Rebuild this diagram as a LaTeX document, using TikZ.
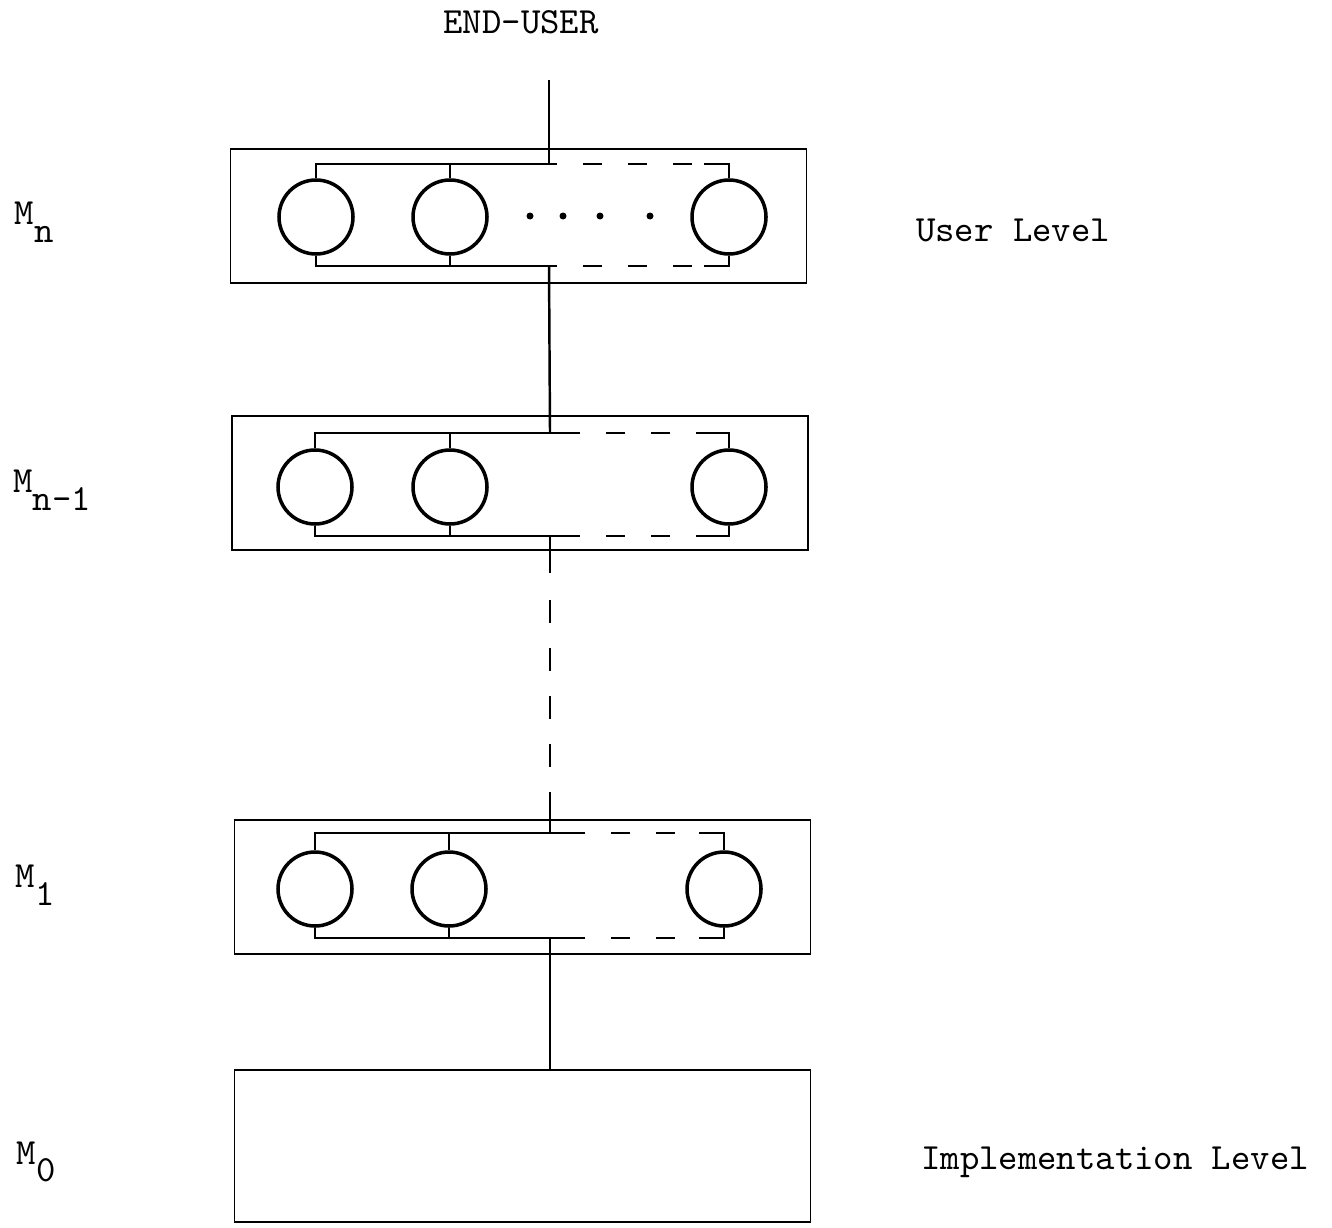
\documentclass[tikz,border=0pt]{standalone}
\usetikzlibrary{positioning, calc}

\begin{document}
\begin{tikzpicture}[
  layer/.style={draw, line width=0.5pt, minimum width=5.76cm, minimum height=1.34cm},
  unit/.style={draw, circle, line width=1pt, minimum size=0.74cm, inner sep=0pt},
  bus/.style={line width=0.7pt},
  gapbus/.style={bus, dash pattern=on 0.19cm off 0.26cm, dash phase=0.19cm},
  lbl/.style={font=\ttfamily\fontsize{10.5}{12}\selectfont},
]
  \useasboundingbox (0,0) rectangle (13.32,-12.27);

  % machine levels
  \node[layer] (mn) at (5.185,-2.16) {};
  \node[layer] (mnm) at (5.20,-4.83) {};
  \node[layer] (mone) at (5.225,-8.87) {};
  \node[layer, minimum height=1.52cm] (mzero) at (5.225,-11.46) {};

  \node[unit] (mn-a) at (3.16,-2.17) {};
  \node[unit] (mn-b) at (4.50,-2.17) {};
  \node[unit] (mn-c) at (7.29,-2.17) {};
  \node[unit] (mnm-a) at (3.15,-4.87) {};
  \node[unit] (mnm-b) at (4.50,-4.87) {};
  \node[unit] (mnm-c) at (7.29,-4.87) {};
  \node[unit] (mone-a) at (3.15,-8.89) {};
  \node[unit] (mone-b) at (4.49,-8.89) {};
  \node[unit] (mone-c) at (7.24,-8.89) {};

  \coordinate (mn-t) at (5.49,-1.64);
  \coordinate (mn-d) at (5.49,-2.66);
  \coordinate (mnm-t) at (5.50,-4.33);
  \coordinate (mnm-d) at (5.50,-5.36);
  \coordinate (mone-t) at (5.50,-8.33);
  \coordinate (mone-d) at (5.50,-9.38);

  % buses inside each level
  \foreach \l/\s in {mn/0.08, mnm/0.3, mone/0.35} {
    \foreach \e/\j in {north/t, south/d} {
      \draw[bus] (\l-a.\e) |- ([xshift=\s cm]\l-\j);
      \draw[bus] (\l-b.\e) -- (\l-b.\e |- \l-\j);
      \draw[gapbus] ([xshift=\s cm]\l-\j) -- ([xshift=-0.25cm]\l-c.\e |- \l-\j);
      \draw[bus] ([xshift=-0.25cm]\l-c.\e |- \l-\j) -| (\l-c.\e);
    }
  }
  \foreach \x in {5.30,5.63,6.00,6.50} \fill (\x,-2.16) circle (0.035);

  % links between levels
  \coordinate (enduser-in) at (5.49,-0.80);
  \draw[bus] (enduser-in) -- (mn-t);
  \draw[bus] (mn-d) -- (mnm-t);
  \draw[bus, dash pattern=on 0.37cm off 0.27cm on 0.23cm off 0.25cm on 0.23cm off 0.25cm on 0.23cm off 0.25cm on 0.23cm off 0.25cm on 0.6cm] (mnm-d) -- (mone-t);
  \draw[bus] (mone-d) -- (mone-d |- mzero.north);

  \node[lbl] (enduser) at (5.21,-0.22) {END-USER};
  \node[lbl] (mn-lbl) at (0.34,-2.22) {M\raisebox{-1.1ex}{n}};
  \node[lbl] (mnm-lbl) at (0.52,-4.90) {M\raisebox{-1.1ex}{n-1}};
  \node[lbl] (mone-lbl) at (0.35,-8.85) {M\raisebox{-1.1ex}{1}};
  \node[lbl] (mzero-lbl) at (0.36,-11.62) {M\raisebox{-1.1ex}{0}};
  \node[lbl] (user) at (10.13,-2.30) {User Level};
  \node[lbl] (impl) at (11.15,-11.62) {Implementation Level};
\end{tikzpicture}
\end{document}
